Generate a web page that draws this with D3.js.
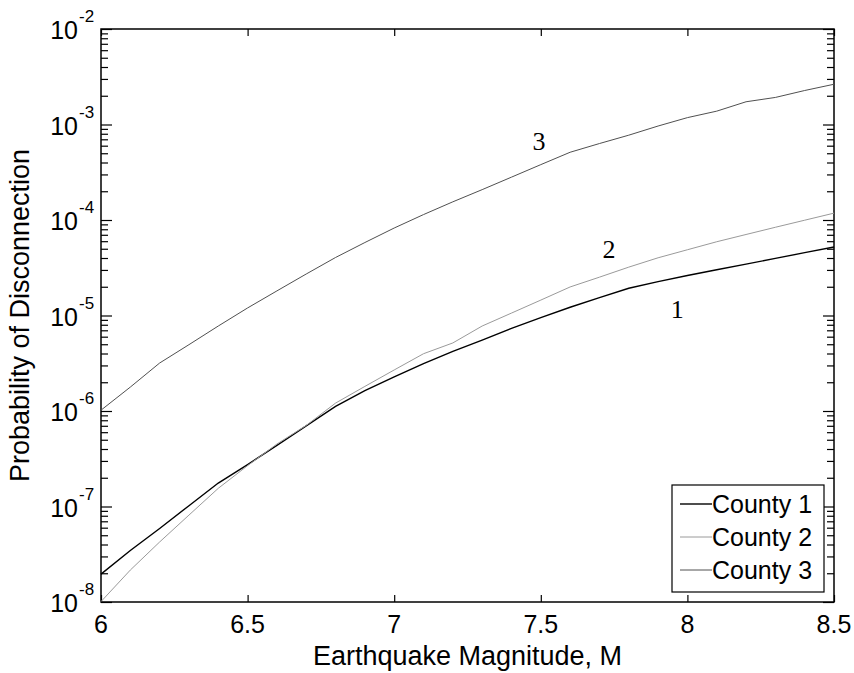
<!DOCTYPE html>
<html>
<head>
<meta charset="utf-8">
<script src="https://cdn.jsdelivr.net/npm/d3@7/dist/d3.min.js"></script>
<style>
  body { margin: 0; background: #fff; }
  svg text { font-family: "Liberation Sans", Arial, sans-serif; fill: #000; }
  .curve-label { font-family: "Liberation Serif", "Times New Roman", serif; }
</style>
</head>
<body>
<div id="chart"></div>
<script>
// earthquake magnitudes (x values)
var magnitudes = [6.0, 6.1, 6.2, 6.3, 6.4, 6.5, 6.6, 6.7, 6.8, 6.9, 7.0, 7.1, 7.2,
                  7.3, 7.4, 7.5, 7.6, 7.7, 7.8, 7.9, 8.0, 8.1, 8.2, 8.3, 8.4, 8.5];

// probability of disconnection
var county1 = [1.96e-8, 3.46e-8, 5.89e-8, 1.02e-7, 1.76e-7, 2.75e-7, 4.36e-7, 6.98e-7,
               1.12e-6, 1.63e-6, 2.28e-6, 3.14e-6, 4.22e-6, 5.53e-6, 7.34e-6, 9.48e-6,
               1.22e-5, 1.54e-5, 1.93e-5, 2.26e-5, 2.62e-5, 3.01e-5, 3.45e-5, 3.96e-5,
               4.55e-5, 5.21e-5];
var county2 = [1.01e-8, 2.16e-8, 4.25e-8, 8.13e-8, 1.55e-7, 2.68e-7, 4.51e-7, 7.06e-7,
               1.21e-6, 1.81e-6, 2.69e-6, 3.98e-6, 5.16e-6, 7.76e-6, 1.06e-5, 1.45e-5,
               1.99e-5, 2.52e-5, 3.21e-5, 4.02e-5, 4.88e-5, 5.92e-5, 7.05e-5, 8.39e-5,
               9.95e-5, 1.18e-4];
var county3 = [1.02e-6, 1.78e-6, 3.18e-6, 4.95e-6, 7.76e-6, 1.20e-5, 1.81e-5, 2.72e-5,
               4.05e-5, 5.81e-5, 8.24e-5, 1.14e-4, 1.55e-4, 2.08e-4, 2.81e-4, 3.80e-4,
               5.12e-4, 6.32e-4, 7.73e-4, 9.64e-4, 1.18e-3, 1.38e-3, 1.73e-3, 1.92e-3,
               2.27e-3, 2.64e-3];

var seriesNames = ["County 1", "County 2", "County 3"];
var seriesColors = ["#000000", "#9a9a9a", "#505050"];
var seriesWidths = [1.4, 1, 1];

var xTicks = [6, 6.5, 7, 7.5, 8, 8.5];
var xTickLabels = ["6", "6.5", "7", "7.5", "8", "8.5"];
var yExponents = [-8, -7, -6, -5, -4, -3, -2];

// number labels written next to the curves
var curveLabelText = ["1", "2", "3"];
var curveLabelM = [7.965, 7.733, 7.494];
var curveLabelP = [1.17e-5, 4.97e-5, 6.7e-4];

var width = 854, height = 673;
var margin = {top: 29, right: 20, bottom: 71, left: 101};
var plotW = width - margin.left - margin.right,
    plotH = height - margin.top - margin.bottom;

var svg = d3.select("#chart").append("svg")
    .attr("width", width)
    .attr("height", height);

var x = d3.scaleLinear().domain([6, 8.5]).range([0, plotW]);
var y = d3.scaleLog().domain([1e-8, 1e-2]).range([plotH, 0]);

var g = svg.append("g")
    .attr("transform", "translate(" + margin.left + "," + margin.top + ")");

// tick values for the log axis
var majors = yExponents.map(function(e) { return Math.pow(10, e); });
var minors = [];
yExponents.slice(0, -1).forEach(function(e) {
    for (var k = 2; k <= 9; k++) minors.push(k * Math.pow(10, e));
});

function styleAxis(sel) {
    sel.select(".domain").remove();
    sel.selectAll("line").attr("stroke", "#000").attr("stroke-width", 1.2);
}

// x ticks, bottom and top, pointing inwards
g.append("g").attr("transform", "translate(0," + plotH + ")")
    .call(d3.axisBottom(x).tickValues(xTicks).tickSize(-7).tickFormat(""))
    .call(styleAxis);
g.append("g")
    .call(d3.axisTop(x).tickValues(xTicks).tickSize(-7).tickFormat(""))
    .call(styleAxis);

// y ticks, left and right
g.append("g").call(d3.axisLeft(y).tickValues(majors).tickSize(-11).tickFormat("")).call(styleAxis);
g.append("g").call(d3.axisLeft(y).tickValues(minors).tickSize(-7).tickFormat("")).call(styleAxis);
g.append("g").attr("transform", "translate(" + plotW + ",0)")
    .call(d3.axisRight(y).tickValues(majors).tickSize(-11).tickFormat("")).call(styleAxis);
g.append("g").attr("transform", "translate(" + plotW + ",0)")
    .call(d3.axisRight(y).tickValues(minors).tickSize(-7).tickFormat("")).call(styleAxis);

// box
g.append("rect")
    .attr("width", plotW).attr("height", plotH)
    .attr("fill", "none").attr("stroke", "#000").attr("stroke-width", 1.5);

// x tick labels
g.selectAll(".xlab").data(xTicks).enter().append("text")
    .attr("class", "xlab")
    .attr("x", function(d) { return x(d); })
    .attr("y", plotH + 31)
    .attr("text-anchor", "middle")
    .style("font-size", "25px")
    .text(function(d, i) { return xTickLabels[i]; });

// y tick labels 10^n
var ylab = g.selectAll(".ylab").data(yExponents).enter().append("g")
    .attr("class", "ylab")
    .attr("transform", function(d) { return "translate(0," + y(Math.pow(10, d)) + ")"; });
ylab.append("text")
    .attr("x", -23).attr("y", 10)
    .attr("text-anchor", "end")
    .style("font-size", "25px")
    .text("10");
ylab.append("text")
    .attr("x", -22).attr("y", -7)
    .style("font-size", "17px")
    .text(function(d) { return d; });

// axis titles
g.append("text")
    .attr("x", plotW / 2).attr("y", plotH + 63)
    .attr("text-anchor", "middle")
    .style("font-size", "27px")
    .text("Earthquake Magnitude, M");
g.append("text")
    .attr("transform", "rotate(-90)")
    .attr("x", -plotH / 2).attr("y", -72)
    .attr("text-anchor", "middle")
    .style("font-size", "27px")
    .text("Probability of Disconnection");

// curves
var allSeries = [county1, county2, county3];
var line = d3.line()
    .x(function(d, i) { return x(magnitudes[i]); })
    .y(function(d) { return y(d); });

g.selectAll(".curve").data(allSeries).enter().append("path")
    .attr("class", "curve")
    .attr("d", line)
    .attr("fill", "none")
    .attr("stroke", function(d, i) { return seriesColors[i]; })
    .attr("stroke-width", function(d, i) { return seriesWidths[i]; });

// curve number labels
g.selectAll(".curve-label").data(curveLabelText).enter().append("text")
    .attr("class", "curve-label")
    .attr("x", function(d, i) { return x(curveLabelM[i]); })
    .attr("y", function(d, i) { return y(curveLabelP[i]) + 9; })
    .attr("text-anchor", "middle")
    .style("font-size", "26px")
    .text(function(d) { return d; });

// legend
var legX = 672 - margin.left, legY = 485 - margin.top, legW = 152, legH = 107;
var leg = g.append("g").attr("transform", "translate(" + legX + "," + legY + ")");
leg.append("rect")
    .attr("width", legW).attr("height", legH)
    .attr("fill", "#fff").attr("stroke", "#000").attr("stroke-width", 1.2);
var rows = leg.selectAll(".legrow").data(seriesNames).enter().append("g")
    .attr("class", "legrow")
    .attr("transform", function(d, i) { return "translate(0," + (19 + i * 33) + ")"; });
rows.append("line")
    .attr("x1", 8).attr("x2", 40)
    .attr("stroke", function(d, i) { return seriesColors[i]; })
    .attr("stroke-width", function(d, i) { return seriesWidths[i]; });
rows.append("text")
    .attr("x", 40).attr("y", 9)
    .style("font-size", "25px")
    .text(function(d) { return d; });
</script>
</body>
</html>
